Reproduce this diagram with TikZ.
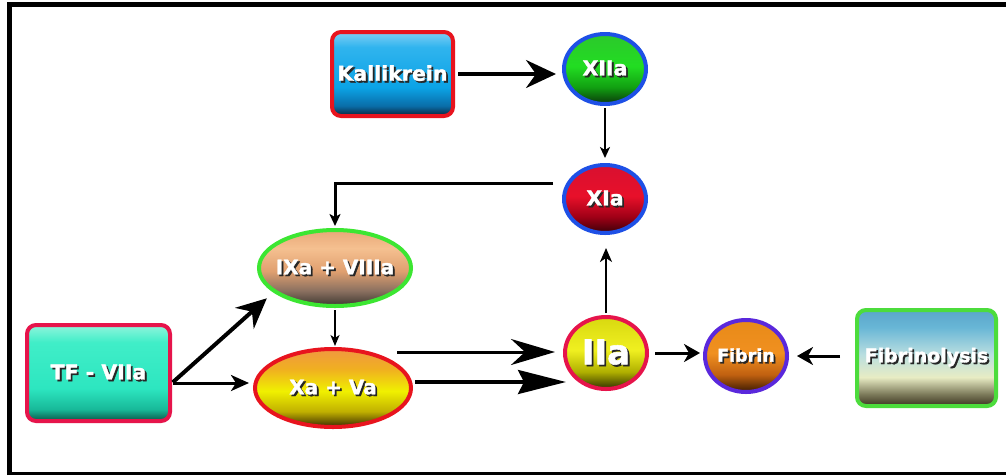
\documentclass[tikz,border=0pt]{standalone}
\usepackage{fontspec}
\setmainfont{DejaVu Sans}
\newfontfamily\heavy{DejaVu Sans Bold}[FakeBold=1.6]
\usetikzlibrary{arrows.meta,shapes.geometric,calc}
% colours
\definecolor{bRed}{HTML}{E8141E}
\definecolor{bBlue}{HTML}{1E50E6}
\definecolor{bGreen}{HTML}{3CE632}
\definecolor{bCrim}{HTML}{E6144B}
\definecolor{bPurp}{HTML}{5A28DC}
\definecolor{bLime}{HTML}{4CDC3C}
% Kallikrein
\definecolor{ka1}{HTML}{0B2236}\definecolor{ka2}{HTML}{0A6DA8}\definecolor{ka3}{HTML}{0BA3E6}\definecolor{ka4}{HTML}{30B4EE}\definecolor{ka5}{HTML}{80D0F5}
\pgfdeclareverticalshading{kalli}{100bp}{color(0bp)=(ka1); color(25bp)=(ka1); color(31bp)=(ka2); color(42bp)=(ka3); color(66bp)=(ka4); color(75bp)=(ka5); color(100bp)=(ka5)}
% TF
\definecolor{tf1}{HTML}{0A5446}\definecolor{tf2}{HTML}{18B898}\definecolor{tf3}{HTML}{2DE6C0}\definecolor{tf4}{HTML}{40EEC8}\definecolor{tf5}{HTML}{90F4DC}
\pgfdeclareverticalshading{tfsh}{100bp}{color(0bp)=(tf1); color(25bp)=(tf1); color(31bp)=(tf2); color(42bp)=(tf3); color(66bp)=(tf4); color(75bp)=(tf5); color(100bp)=(tf5)}
% Fibrinolysis
\definecolor{fl1}{HTML}{3A3420}\definecolor{fl2}{HTML}{7A7858}\definecolor{fl3}{HTML}{E8ECC4}\definecolor{fl4}{HTML}{B8DEE0}\definecolor{fl5}{HTML}{68B6D6}\definecolor{fl6}{HTML}{5AA6CA}
\pgfdeclareverticalshading{flsh}{100bp}{color(0bp)=(fl1); color(25bp)=(fl1); color(31bp)=(fl2); color(40bp)=(fl3); color(52bp)=(fl4); color(66bp)=(fl5); color(75bp)=(fl6); color(100bp)=(fl6)}
% green
\definecolor{gr1}{HTML}{0A360A}\definecolor{gr2}{HTML}{11A011}\definecolor{gr3}{HTML}{22DD22}\definecolor{gr4}{HTML}{2CC82C}
\pgfdeclareverticalshading{grsh}{100bp}{color(0bp)=(gr1); color(25bp)=(gr1); color(37bp)=(gr2); color(52bp)=(gr3); color(75bp)=(gr4); color(100bp)=(gr4)}
% red
\definecolor{rd1}{HTML}{3A0008}\definecolor{rd2}{HTML}{A00016}\definecolor{rd3}{HTML}{E8102A}\definecolor{rd4}{HTML}{D81030}
\pgfdeclareverticalshading{rdsh}{100bp}{color(0bp)=(rd1); color(25bp)=(rd1); color(37bp)=(rd2); color(52bp)=(rd3); color(75bp)=(rd4); color(100bp)=(rd4)}
% IXa
\definecolor{ix1}{HTML}{3C3630}\definecolor{ix2}{HTML}{8A7060}\definecolor{ix3}{HTML}{E0A070}\definecolor{ix4}{HTML}{F5C090}\definecolor{ix5}{HTML}{E8A878}
\pgfdeclareverticalshading{ixsh}{100bp}{color(0bp)=(ix1); color(25bp)=(ix1); color(35bp)=(ix2); color(48bp)=(ix3); color(63bp)=(ix4); color(75bp)=(ix5); color(100bp)=(ix5)}
% Xa
\definecolor{xa1}{HTML}{3A2A00}\definecolor{xa2}{HTML}{C0B000}\definecolor{xa3}{HTML}{F0F000}\definecolor{xa4}{HTML}{F0B020}\definecolor{xa5}{HTML}{F09840}
\pgfdeclareverticalshading{xash}{100bp}{color(0bp)=(xa1); color(25bp)=(xa1); color(35bp)=(xa2); color(48bp)=(xa3); color(62bp)=(xa4); color(75bp)=(xa5); color(100bp)=(xa5)}
% IIa
\definecolor{ii1}{HTML}{303000}\definecolor{ii2}{HTML}{B0B000}\definecolor{ii3}{HTML}{F0F020}\definecolor{ii4}{HTML}{D8D810}
\pgfdeclareverticalshading{iish}{100bp}{color(0bp)=(ii1); color(25bp)=(ii1); color(37bp)=(ii2); color(52bp)=(ii3); color(75bp)=(ii4); color(100bp)=(ii4)}
% Fibrin
\definecolor{fb1}{HTML}{3A1A00}\definecolor{fb2}{HTML}{C06010}\definecolor{fb3}{HTML}{F09020}\definecolor{fb4}{HTML}{E88A18}
\pgfdeclareverticalshading{fbsh}{100bp}{color(0bp)=(fb1); color(25bp)=(fb1); color(37bp)=(fb2); color(52bp)=(fb3); color(75bp)=(fb4); color(100bp)=(fb4)}

\newcommand\shtxt[1]{\makebox[0pt]{\rlap{\kern1.8pt\raisebox{-1.8pt}{\color[HTML]{262626}#1}}{\color{white}#1}}}

\tikzset{
  boxnode/.style={rectangle, rounded corners=9pt, line width=4pt, inner sep=0pt},
  ellnode/.style={ellipse, line width=4pt, inner sep=0pt},
  lab/.style={font=\heavy\fontsize{#1}{#1}\selectfont},
  conn/.style={line width=#1, draw=black},
}

\begin{document}
\begin{tikzpicture}[x=1pt,y=-1pt]
\useasboundingbox (0,0) rectangle (1006,475);
\fill[white] (0,0) rectangle (1006,475);
% frame
\draw[line width=5.5pt] (9.5,475) -- (9.5,4.5) -- (1006,4.5);
\draw[line width=3pt] (7,473) -- (1006,473);

% nodes
\node[boxnode, draw=bRed, shading=kalli, minimum width=121pt, minimum height=84pt, lab=20.5] (kal) at (392.5,74) {\shtxt{Kallikrein}};
\node[ellnode, draw=bBlue, shading=grsh, minimum width=82pt, minimum height=70pt, lab=20.5] (xii) at (605,69) {\shtxt{XIIa}};
\node[ellnode, draw=bBlue, shading=rdsh, minimum width=82pt, minimum height=68pt, lab=20.5] (xia) at (605,199) {\shtxt{XIa}};
\node[ellnode, draw=bGreen, shading=ixsh, minimum width=152pt, minimum height=76pt, lab=20] (ixa) at (335,268) {\shtxt{IXa + VIIIa}};
\node[ellnode, draw=bRed, shading=xash, minimum width=156pt, minimum height=78pt, lab=20] (xa) at (333,388) {\shtxt{Xa + Va}};
\node[boxnode, draw=bCrim, shading=tfsh, minimum width=143pt, minimum height=96pt, lab=20.5] (tf) at (98.5,373) {\shtxt{TF - VIIa}};
\node[ellnode, draw=bCrim, shading=iish, minimum width=82pt, minimum height=72pt, lab=34] (iia) at (606,353) {\shtxt{IIa}};
\node[ellnode, draw=bPurp, shading=fbsh, minimum width=82pt, minimum height=72pt, lab=17.5] (fib) at (746,356) {\shtxt{Fibrin}};
\node[boxnode, draw=bLime, shading=flsh, minimum width=139pt, minimum height=96pt, lab=19] (fl) at (926.5,358) {\shtxt{Fibrinolysis}};

% connectors
\draw[conn=3.5pt, -{Stealth[length=30pt,width=28pt,inset=10pt]}, shorten <=3pt, shorten >=6pt]
  (kal.east) -- (kal.east -| xii.west);
\draw[conn=2pt, -{Stealth[length=11pt,width=10pt,inset=3pt]}, shorten <=2pt, shorten >=5pt]
  (xii.south) -- (xia.north);
\draw[conn=3pt, -{Stealth[length=12pt,width=11pt,inset=3pt]}, shorten <=9pt, shorten >=2pt]
  ([yshift=16pt]xia.west) -| (ixa.north);
\draw[conn=1.8pt, -{Stealth[length=11pt,width=9pt,inset=3pt]}, shorten <=2pt, shorten >=1pt]
  (ixa.south) -- (ixa.south |- xa.north);
\coordinate (tfo) at ([yshift=-10pt]tf.east);
\draw[conn=4pt, -{Stealth[length=30pt,width=28pt,inset=10pt]}, shorten <=1pt]
  (tfo) -- ($(ixa.south west)+(-13,2)$);
\draw[conn=3pt, -{Stealth[length=18pt,width=16pt,inset=5pt]}, shorten <=1pt, shorten >=4pt]
  (tfo) -- (tfo -| xa.west);
\coordinate (u1) at ([xshift=-16pt,yshift=36pt]xa.east);
\draw[conn=3pt, -{Stealth[length=44pt,width=26pt,inset=14pt]}, shorten >=8pt]
  (u1) -- (u1 -| iia.west);
\coordinate (l1) at ([xshift=2pt,yshift=6pt]xa.east);
\draw[conn=3.5pt, -{Stealth[length=48pt,width=24pt,inset=6pt]}, shorten >=-3pt]
  (l1) -- (l1 -| iia.west);
\draw[conn=2pt, -{Stealth[length=14pt,width=12pt,inset=4pt]}, shorten <=2pt, shorten >=13pt]
  (iia.north) -- (iia.north |- xia.south);
\draw[conn=3pt, -{Stealth[length=16pt,width=18pt,inset=5pt]}, shorten <=6pt, shorten >=3pt]
  (iia.east) -- (iia.east -| fib.west);
\draw[conn=3pt, -{Stealth[length=16pt,width=18pt,inset=5pt]}, shorten <=15pt, shorten >=8pt]
  (fib.east -| fl.west) -- (fib.east);
\end{tikzpicture}
\end{document}
